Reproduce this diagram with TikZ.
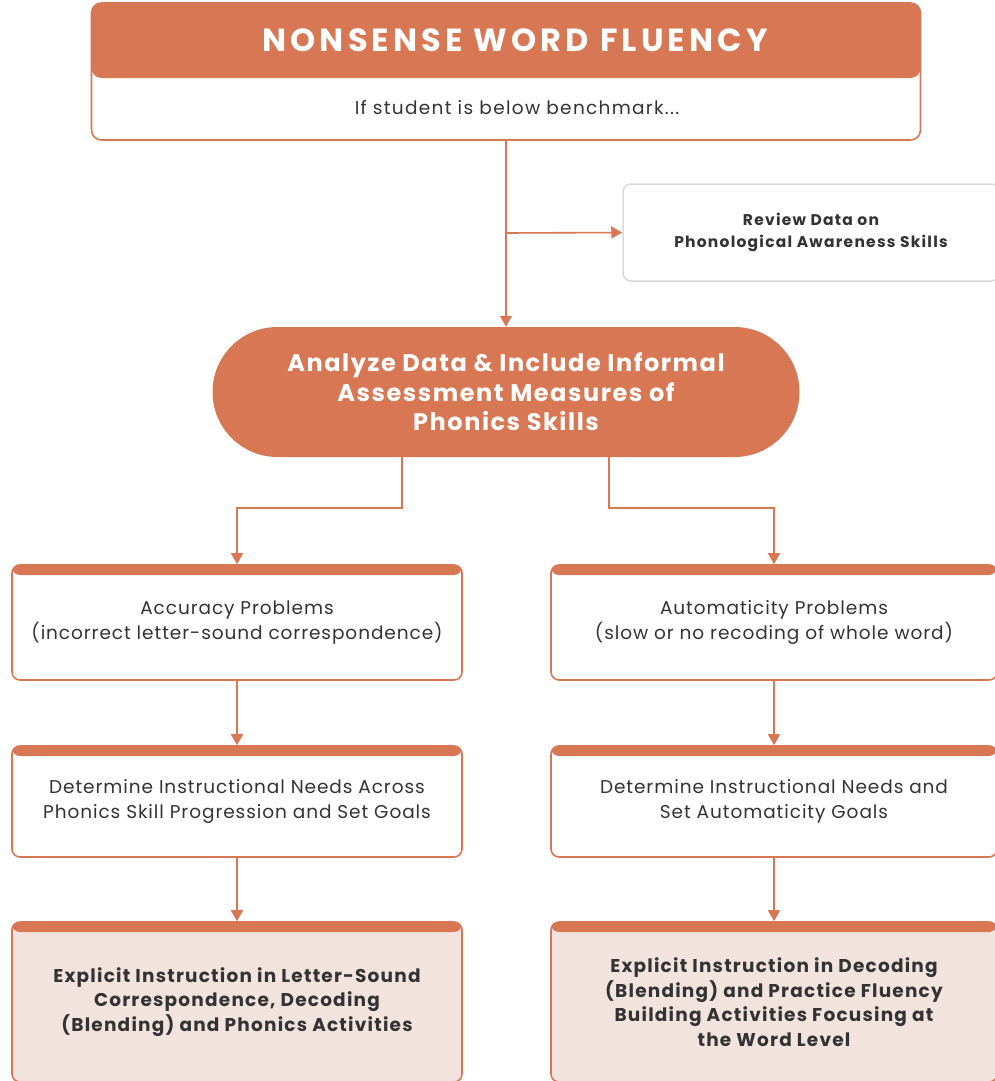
\documentclass[tikz,border=0pt]{standalone}
\usepackage{fontspec}
\setmainfont{Poppins}
\usetikzlibrary{arrows.meta}

\definecolor{nwforange}{HTML}{D87753}
\definecolor{nwfpink}{HTML}{F3E3DE}
\definecolor{nwfgray}{HTML}{D9D9D9}
\definecolor{nwftext}{HTML}{333333}

\tikzset{
  flow/.style={draw=nwforange, line width=1.6pt, -{Triangle[length=11pt,width=12pt]}},
  stepbox/.style={draw=nwforange, line width=1.6pt, rounded corners=8pt, fill=white,
    align=center, text=nwftext, inner sep=0pt,
    path picture={\fill[nwforange] (path picture bounding box.north west)
      rectangle ([yshift=-10pt]path picture bounding box.north east);}},
  bodytext/.style={font=\fontsize{18.5}{25}\selectfont\addfontfeature{LetterSpace=5}},
  boldtext/.style={font=\bfseries\fontsize{18.5}{24.5}\selectfont\addfontfeature{LetterSpace=6.5}},
}

\begin{document}
\begin{tikzpicture}[x=1pt,y=-1pt]
  \useasboundingbox (0,0) rectangle (995,1081);
  \clip (0,0) rectangle (995,1081);

  % Header with the orange title band
  \node[draw=nwforange, line width=1.6pt, rounded corners=10pt, fill=white,
        minimum width=829pt, minimum height=137pt, inner sep=0pt,
        path picture={\fill[nwforange] (path picture bounding box.north west)
          rectangle ([yshift=-75pt]path picture bounding box.north east);}]
    (head) at (506,71.5) {};
  \node[text=white, font=\bfseries\fontsize{32}{36}\selectfont\addfontfeature{LetterSpace=13}]
    (title) at (515,40) {NONSENSE WORD FLUENCY};
  \node[text=nwftext, font=\fontsize{18.5}{22}\selectfont\addfontfeature{LetterSpace=7}]
    (cond) at (517,108) {If student is below benchmark...};

  % Side box
  \node[draw=nwfgray, line width=1.5pt, rounded corners=8pt, minimum width=376pt,
        minimum height=97pt, align=center, text=nwftext,
        font=\bfseries\fontsize{15.5}{22}\selectfont\addfontfeature{LetterSpace=8}]
    (review) at (811,232.5) {Review Data on\\Phonological Awareness Skills};

  % The oval
  \node[fill=nwforange, rounded corners=65pt, minimum width=587pt, minimum height=130pt,
        align=center, text=white, font=\bfseries\fontsize{24}{29.5}\selectfont\addfontfeature{LetterSpace=6.5}]
    (oval) at (506,392) {Analyze Data \& Include Informal\\Assessment Measures of\\Phonics Skills};

  % Left column
  \node[stepbox, bodytext, minimum width=450pt, minimum height=115pt] (acc) at (237,622.5)
    {Accuracy Problems\\(incorrect letter-sound correspondence)};
  \node[stepbox, bodytext, minimum width=450pt, minimum height=111pt] (accneed) at (237,801.5)
    {Determine Instructional Needs Across\\Phonics Skill Progression and Set Goals};
  \node[stepbox, boldtext, fill=nwfpink, minimum width=450pt, minimum height=160pt] (accinst) at (237,1002)
    {Explicit Instruction in Letter-Sound\\Correspondence, Decoding\\(Blending) and Phonics Activities};

  % Right column
  \node[stepbox, bodytext, minimum width=446pt, minimum height=115pt] (auto) at (774,622.5)
    {Automaticity Problems\\(slow or no recoding of whole word)};
  \node[stepbox, bodytext, minimum width=446pt, minimum height=111pt] (autoneed) at (774,801.5)
    {Determine Instructional Needs and\\Set Automaticity Goals};
  \node[stepbox, boldtext, fill=nwfpink, minimum width=446pt, minimum height=160pt] (autoinst) at (774,1002)
    {Explicit Instruction in Decoding\\(Blending) and Practice Fluency\\Building Activities Focusing at\\the Word Level};

  % Connectors
  \coordinate (split) at (506,233);
  \draw[flow] (head.south) -- (oval.north);
  \draw[flow] (split) -- (review.west);
  \draw[flow] ([xshift=-104pt]oval.south) -- ++(0,51) -| (acc.north);
  \draw[flow] ([xshift=103pt]oval.south) -- ++(0,51) -| (auto.north);
  \foreach \a/\b in {acc/accneed, accneed/accinst, auto/autoneed, autoneed/autoinst} {
    \draw[flow] (\a) -- (\b);
  }
\end{tikzpicture}
\end{document}
